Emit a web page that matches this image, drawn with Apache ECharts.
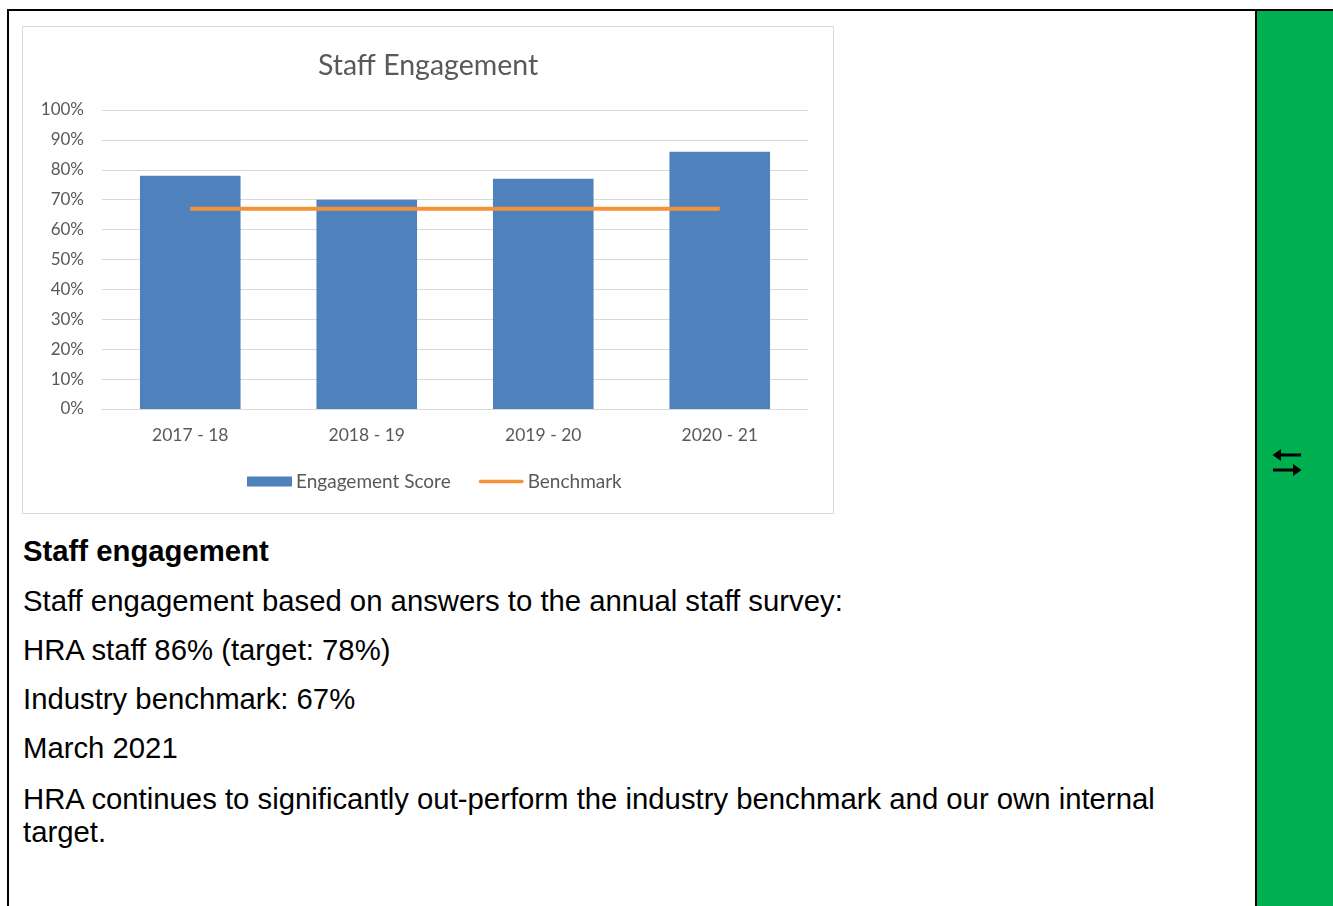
<!DOCTYPE html>
<html>
<head>
<meta charset="utf-8">
<script src="https://cdn.jsdelivr.net/npm/echarts@6/dist/echarts.min.js"></script>
<style>
  html, body { margin: 0; padding: 0; background: #fff; }
  body { width: 1333px; height: 906px; position: relative; overflow: hidden; font-family: "Liberation Sans", Arial, sans-serif; }
  #frameTop { position: absolute; left: 7px; top: 9px; width: 1326px; height: 2px; background: #000; }
  #frameLeft { position: absolute; left: 7px; top: 9px; width: 2px; height: 897px; background: #000; }
  #side { position: absolute; left: 1255px; top: 9px; width: 78px; height: 897px; background: #00b050; border-left: 2px solid #000; box-sizing: border-box; border-top: 2px solid #000; }
  #arrows { position: absolute; left: 1272px; top: 448px; width: 30px; height: 30px; }
  #chartBox { position: absolute; left: 22px; top: 26px; width: 812px; height: 488px; border: 1px solid #d9d9d9; box-sizing: border-box; background: #fff; }
  #chart { position: absolute; left: 0; top: 0; width: 810px; height: 486px; }
  .txt { position: absolute; left: 23px; font-size: 29.3px; line-height: 33px; color: #000; white-space: nowrap; }
  .b { font-weight: bold; }
</style>
</head>
<body>
<div id="frameTop"></div>
<div id="frameLeft"></div>
<div id="side"></div>
<svg id="arrows" viewBox="0 0 30 30" aria-label="⇆">
  <rect x="8" y="5.5" width="21" height="3" fill="#000"/>
  <polygon points="0.5,7 9,1 9,13" fill="#000"/>
  <rect x="1" y="20.5" width="21" height="3" fill="#000"/>
  <polygon points="29.5,22 21,16 21,28" fill="#000"/>
</svg>
<div id="chartBox"><div id="chart"></div></div>
<div class="txt b" style="top:534px">Staff engagement</div>
<div class="txt" style="top:584px">Staff engagement based on answers to the annual staff survey:</div>
<div class="txt" style="top:633px">HRA staff 86% (target: 78%)</div>
<div class="txt" style="top:682px">Industry benchmark: 67%</div>
<div class="txt" style="top:731px">March 2021</div>
<div class="txt" style="top:782px">HRA continues to significantly out-perform the industry benchmark and our own internal<br>target.</div>
<script>
const categories = ['2017 - 18', '2018 - 19', '2019 - 20', '2020 - 21'];
const engagementScore = [78, 70, 77, 86];
const benchmark = [67, 67, 67, 67];
const yTicks = { min: 0, max: 100, interval: 10 };

const chart = echarts.init(document.getElementById('chart'), null, { renderer: 'canvas' });
const gray = '#595959';
const font = 'Lato';
const orange = '#f39239';
chart.setOption({
  animation: false,
  textStyle: { fontFamily: font },
  title: {
    text: 'Staff Engagement',
    left: 'center',
    top: 19,
    textStyle: { fontFamily: font, fontSize: 28.5, fontWeight: 'normal', color: gray }
  },
  legend: {
    top: 440,
    left: 219,
    itemWidth: 45,
    itemHeight: 10,
    itemGap: 28,
    textStyle: { fontFamily: font, fontSize: 19, color: gray, padding: [0, 0, 0, -1] },
    data: [
      { name: 'Engagement Score', icon: 'rect' },
      { name: 'Benchmark', icon: 'path://M0,0M47,10M1.8,3.2L45.2,3.2A1.8,1.8,0,0,1,45.2,6.8L1.8,6.8A1.8,1.8,0,0,1,1.8,3.2Z', itemStyle: { color: orange } }
    ]
  },
  grid: { left: 79, right: 25, top: 83, bottom: 104, containLabel: false },
  xAxis: {
    type: 'category',
    data: categories,
    axisLine: { show: true, lineStyle: { color: '#d9d9d9', width: 1 } },
    axisTick: { show: false },
    axisLabel: { color: gray, fontSize: 17.5, fontFamily: font, margin: 17 }
  },
  yAxis: {
    type: 'value',
    min: yTicks.min,
    max: yTicks.max,
    interval: yTicks.interval,
    axisLine: { show: false },
    axisTick: { show: false },
    splitLine: { lineStyle: { color: '#d9d9d9', width: 1 } },
    axisLabel: { color: gray, fontSize: 17, fontFamily: font, margin: 18, formatter: '{value}%' }
  },
  series: [
    {
      name: 'Engagement Score',
      type: 'bar',
      data: engagementScore,
      barCategoryGap: '43%',
      itemStyle: { color: '#4f81bd' }
    },
    {
      name: 'Benchmark',
      type: 'line',
      data: benchmark,
      symbol: 'none',
      lineStyle: { color: orange, width: 4 },
      itemStyle: { color: orange }
    }
  ]
});
</script>
</body>
</html>
